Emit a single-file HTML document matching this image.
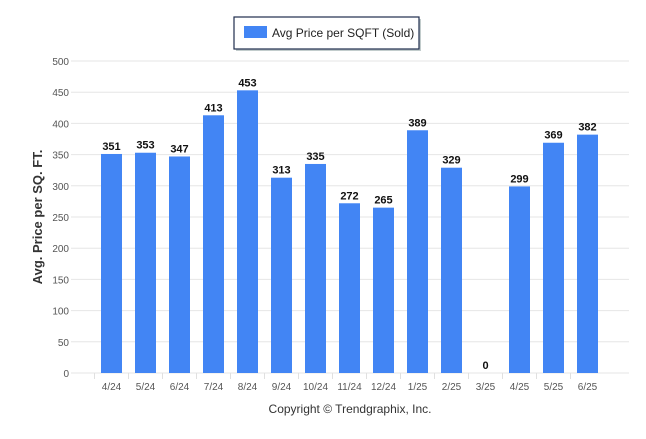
<!DOCTYPE html>
<html><head><meta charset="utf-8"><style>
body{margin:0;background:#fff;font-family:"Liberation Sans",sans-serif}
</style></head><body>
<svg width="646" height="434" xmlns="http://www.w3.org/2000/svg">
<g>
<rect x="236" y="19" width="185" height="32" fill="#9aa" opacity="0.6"/>
<rect x="234" y="17" width="185" height="32" fill="#fff" stroke="#1f2d4d" stroke-width="1.2"/>
<rect x="244" y="26" width="23" height="12" fill="#4285f4"/>
<text x="272" y="37" font-size="12" fill="#222">Avg Price per SQFT (Sold)</text>
</g>
<g id="grid"></g>
<g id="bars"></g>
<text transform="translate(42,217) rotate(-90)" text-anchor="middle" font-size="13" font-weight="bold" fill="#333">Avg. Price per SQ. FT.</text>
<text x="350" y="413" text-anchor="middle" font-size="12" fill="#333">Copyright © Trendgraphix, Inc.</text>
</svg>
<script>
const categories=["4/24","5/24","6/24","7/24","8/24","9/24","10/24","11/24","12/24","1/25","2/25","3/25","4/25","5/25","6/25"];
const values=[351,353,347,413,453,313,335,272,265,389,329,0,299,369,382];
const yTicks=[0,50,100,150,200,250,300,350,400,450,500];
const NS="http://www.w3.org/2000/svg";
const y=v=>373-v*(312/500);
const x=i=>111.5+34*i;
const g=document.getElementById('grid'),b=document.getElementById('bars');
function mk(tag,attrs,parent,txt){const e=document.createElementNS(NS,tag);for(const k in attrs)e.setAttribute(k,attrs[k]);if(txt!==undefined)e.textContent=txt;parent.appendChild(e);return e;}
yTicks.forEach(t=>{
 const l=mk('line',{x1:71,x2:629,y1:y(t),y2:y(t),stroke:'#e6e6e6','stroke-width':1},g);
 
 
 const tx=mk('text',{x:69,y:y(t)+4,'text-anchor':'end','font-size':'10',fill:'#555'},g,t);
 
 
});
categories.forEach((c,i)=>{
 const tk=mk('line',{x1:x(i)-17,x2:x(i)-17,y1:373,y2:379,stroke:'#e0e0e0'},g);
 
 
 const r=mk('rect',{x:x(i)-10.5,y:y(values[i]),width:21,height:373-y(values[i]),fill:'#4285f4'},b);
 
 
 const v=mk('text',{x:x(i),y:y(values[i])-4,'text-anchor':'middle','font-size':'11','font-weight':'bold',fill:'#111'},b,values[i]);
 
 
 const xl=mk('text',{x:x(i),y:390,'text-anchor':'middle','font-size':'10',fill:'#555'},b,c);
 
 
});
</script>
</body></html>
